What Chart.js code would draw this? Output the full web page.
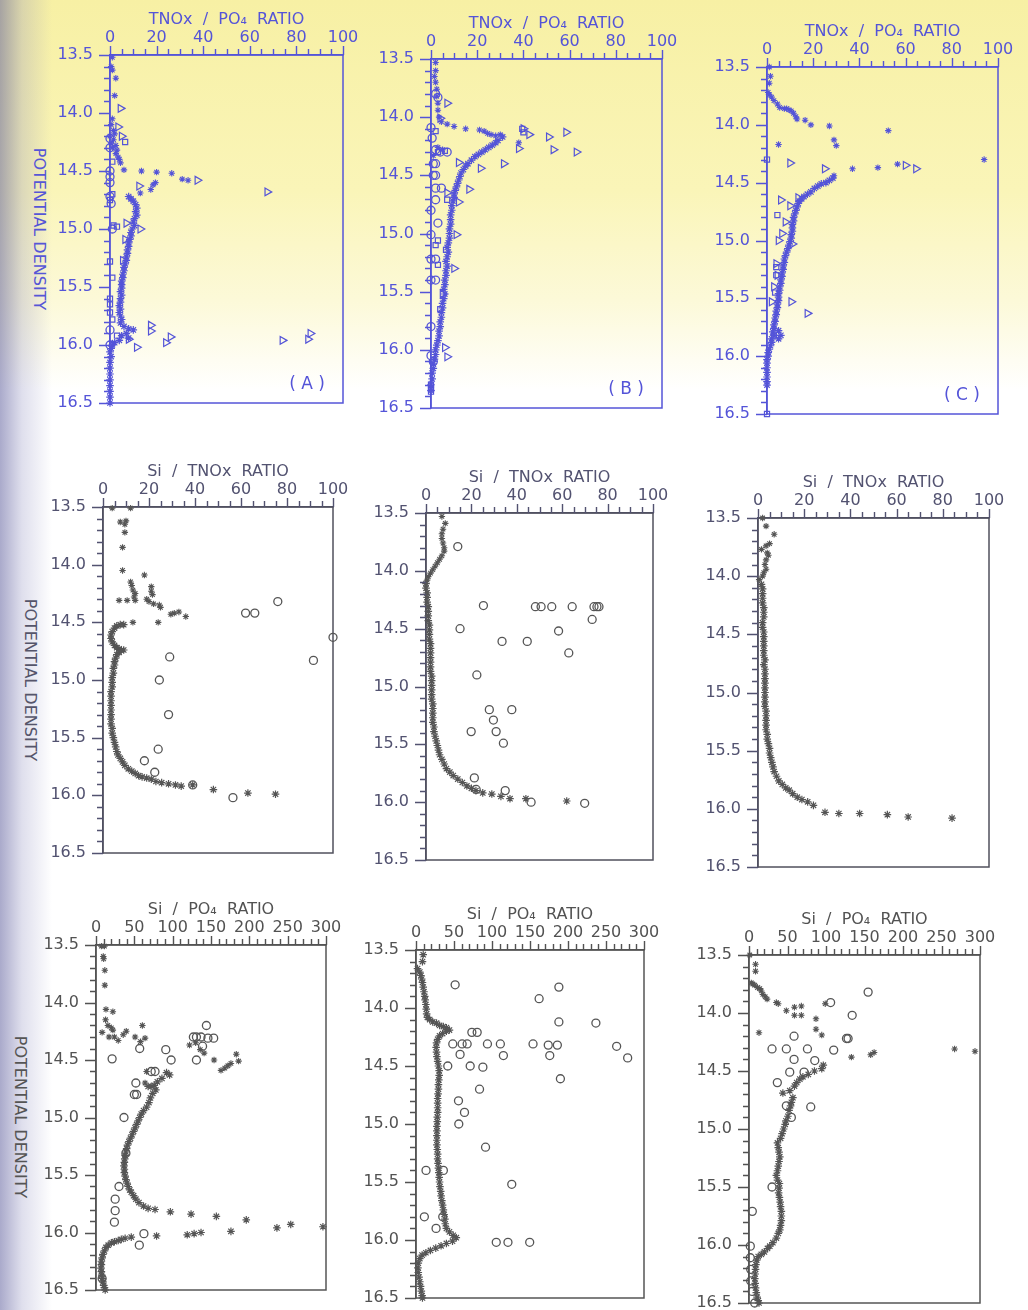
<!DOCTYPE html>
<html>
<head>
<meta charset="utf-8">
<script src="https://cdn.jsdelivr.net/npm/chart.js@4.4.0/dist/chart.umd.min.js"></script>
<style>
  body { margin: 0; background: #fff; }
  #page {
    position: relative; width: 1028px; height: 1310px; overflow: hidden;
    background:
      linear-gradient(to right, rgba(100,100,160,0.55) 0px, rgba(140,140,190,0.28) 22px, rgba(255,255,255,0) 52px),
      linear-gradient(to bottom, #f7f0a4 0px, #faf5b8 190px, #fcf9d8 300px, #ffffff 390px, #ffffff 100%);
  }
  .ytitle {
    position: absolute; white-space: nowrap;
    font: 16px "DejaVu Sans", sans-serif;
    transform: translate(-50%, -50%) rotate(90deg);
  }
</style>
</head>
<body>
<div id="page">
  <div class="ytitle" style="left:39px; top:229px; color:#5656d6">POTENTIAL DENSITY</div>
  <div class="ytitle" style="left:30px; top:680px; color:#55556a">POTENTIAL DENSITY</div>
  <div class="ytitle" style="left:20px; top:1117px; color:#555555">POTENTIAL DENSITY</div>
</div>
<script>
// each point is [ratio, potential density]

// ---- TNOx / PO4 ratio ----
const aProfile = [[8,14.72],[9,14.74],[10,14.76],[11,14.79],[11.5,14.82],[11,14.85],[11.5,14.88],[10.5,14.91],[10,14.94],[10.5,14.97],[9.5,15.0],[9,15.03],[9,15.06],[8.5,15.09],[8,15.12],[8,15.15],[7.5,15.18],[7.5,15.21],[7,15.24],[7,15.27],[6.5,15.3],[6,15.33],[6,15.36],[5.5,15.39],[5.5,15.42],[5,15.45],[5,15.48],[5,15.51],[4.5,15.54],[5,15.57],[4.5,15.6],[4.5,15.63],[4,15.66],[4.5,15.69],[4,15.72],[4.5,15.75],[5,15.78],[4.5,15.81],[6,15.84],[8,15.86],[10,15.87],[7,15.9],[5,15.92],[8,15.94],[4,15.96],[2,15.98],[1,16.0],[0.5,16.03],[0,16.06],[0.5,16.1],[0,16.15],[0,16.2],[0,16.25],[0,16.3],[0,16.35],[0,16.4],[0,16.45],[0,16.5]];
const aStars = [[1,13.52],[0.5,13.6],[1,13.63],[2.5,13.7],[2,13.85],[1,14.05],[0.5,14.1],[1.5,14.15],[2,14.18],[0,14.2],[1.5,14.23],[0.5,14.26],[2.5,14.28],[1,14.3],[3,14.32],[2.5,14.35],[3.5,14.38],[4,14.4],[4.5,14.43],[6,14.49],[13.5,14.5],[20,14.51],[26.5,14.52],[31,14.57],[33.5,14.58],[19.5,14.6],[18.5,14.62],[17.5,14.66],[13,14.69]];
const aTriangles = [[4.5,13.96],[3.5,14.12],[5,14.2],[37.5,14.58],[67.5,14.68],[12.5,14.63],[7,14.95],[13,15.0],[6.5,15.09],[5.5,15.27],[17.5,15.83],[17.5,15.88],[26,15.93],[24,15.98],[11.5,16.02],[74,15.96],[86,15.9],[85,15.95],[8,15.95]];
const aSquares = [[6.5,14.25],[1,14.42],[1,14.7],[0,14.75],[1.5,14.97],[3,14.98],[0,15.28],[1,15.42],[0,15.6],[0,15.65],[0,15.72],[1,15.78],[3,15.92]];
const aCircles = [[0,14.22],[0,14.3],[0,14.5],[0,14.55],[0,14.6],[0,14.72],[0.5,14.78],[1,15.0],[0,15.87],[0,16.0]];

const bProfile = [[31,14.17],[29,14.2],[28,14.22],[26.5,14.24],[25,14.26],[23.5,14.28],[22,14.3],[20.5,14.32],[19,14.34],[17.5,14.37],[16,14.4],[15,14.42],[14,14.45],[13,14.48],[12.5,14.51],[12,14.54],[11.5,14.57],[11,14.6],[10.5,14.63],[10,14.66],[10,14.69],[9.5,14.72],[9,14.76],[9,14.8],[8.5,14.84],[8.5,14.88],[8.5,14.92],[8,14.96],[8,15.0],[8,15.04],[7.5,15.08],[7,15.12],[7.5,15.16],[7,15.2],[6.5,15.24],[7,15.28],[6.5,15.32],[6.5,15.36],[6,15.4],[6,15.44],[5.5,15.48],[6,15.52],[5.5,15.56],[5,15.6],[5,15.64],[4.5,15.68],[4.5,15.72],[4,15.76],[4,15.8],[3.5,15.84],[3.5,15.88],[3,15.92],[2.5,15.96],[2,16.0],[2,16.04],[1.5,16.08],[1,16.12],[1,16.16],[0.5,16.2],[0.5,16.25],[0,16.3],[0,16.35]];
const bStars = [[2,13.53],[2,13.6],[1.5,13.65],[2,13.7],[2.5,13.76],[2.5,13.82],[3,13.88],[3,13.94],[3.5,14.0],[4.5,14.04],[7,14.06],[10,14.08],[15,14.1],[21,14.11],[23,14.12],[24.5,14.14],[26,14.15],[28,14.16],[30,14.15],[38,14.22],[3,14.26],[5,14.28],[1,14.33]];
const bTriangles = [[7,13.88],[40,14.1],[42.5,14.15],[51,14.17],[58.5,14.13],[38,14.27],[53,14.28],[63,14.3],[31.5,14.4],[21.5,14.44],[12,14.39],[16.5,14.62],[7,14.65],[12,14.73],[11,15.01],[10,15.3],[5,15.52],[6,15.98],[7,16.06],[4,14.01]];
const bSquares = [[39.5,14.1],[40,14.13],[6,14.29],[7,14.71],[3,15.06],[6.5,15.14],[3,15.27],[2,15.1],[4,15.65],[0,16.3],[0,16.33],[0,16.36],[3,14.3],[2,14.12]];
const bCircles = [[2,13.8],[3,13.83],[0,14.09],[0.5,14.18],[2,14.28],[4,14.3],[7,14.3],[2,14.4],[1,14.4],[2,14.5],[1,14.5],[2,14.61],[4.5,14.61],[2,14.71],[0,14.8],[3,14.91],[0,15.01],[2,15.22],[0,15.22],[2,15.4],[0,15.4],[0,15.8],[0,16.05],[1,16.1]];

const cProfile = [[28.5,14.46],[27,14.48],[25.5,14.5],[23.5,14.51],[22,14.53],[20.5,14.55],[19,14.58],[17.5,14.6],[16,14.62],[15,14.64],[14,14.66],[13.5,14.68],[13,14.71],[12.5,14.74],[12,14.77],[11.5,14.8],[11.5,14.83],[11,14.86],[11,14.89],[11,14.92],[10.5,14.95],[10.5,14.98],[10,15.01],[9.5,15.04],[9,15.07],[8.5,15.1],[8,15.13],[7.5,15.16],[7.5,15.19],[7,15.22],[7,15.25],[6.5,15.28],[6.5,15.31],[6,15.34],[6,15.37],[5.5,15.4],[5.5,15.43],[5,15.46],[5,15.49],[5,15.52],[4.5,15.55],[4.5,15.58],[4,15.61],[4,15.64],[3.5,15.67],[3.5,15.7],[3,15.73],[3,15.76],[2.5,15.79],[3,15.82],[2,15.85],[2,15.88],[1.5,15.91],[1,15.94],[0.5,15.97],[0.5,16.0],[0,16.03],[0,16.06],[0,16.1],[0,16.14],[0,16.18],[0,16.22],[0,16.25],[5,15.78],[6,15.82],[5,15.85]];
const cStars = [[1,13.5],[1.5,13.58],[1,13.64],[0.5,13.72],[1,13.74],[2,13.76],[3,13.79],[4.5,13.82],[5.5,13.85],[7.5,13.86],[8.5,13.86],[9.5,13.87],[10.5,13.88],[11.5,13.9],[12.5,13.93],[13,13.95],[16.5,13.96],[19,14.0],[27,14.01],[52.5,14.05],[29,14.13],[30,14.18],[5,14.17],[94,14.3],[37,14.38],[48,14.37],[56.5,14.34],[29,14.44]];
const cTriangles = [[10,14.33],[25,14.38],[60,14.35],[64.5,14.38],[13.5,14.63],[10,14.7],[8,14.84],[6.5,14.94],[5,15.0],[11,15.03],[10.5,15.53],[17.5,15.63],[2,15.53],[4,15.2],[3,15.4],[6,14.65],[4.5,15.3]];
const cSquares = [[0,14.3],[4.5,14.78],[4,15.23],[4,15.3],[3.5,15.45],[3,15.82],[0,16.5]];

// ---- Si / TNOx ratio ----
const dProfile = [[9,14.52],[7.5,14.52],[6,14.53],[5,14.55],[4,14.58],[3.5,14.61],[3.5,14.64],[4,14.67],[5,14.7],[6,14.72],[7,14.73],[8,14.74],[9,14.74],[7,14.76],[6,14.78],[5.5,14.81],[5,14.84],[5,14.87],[4.5,14.9],[4.5,14.94],[4,14.98],[4,15.02],[4,15.06],[3.5,15.1],[3.5,15.14],[3.5,15.18],[3.5,15.22],[3.5,15.26],[3.5,15.3],[3.5,15.34],[3.5,15.38],[4,15.42],[4,15.46],[4.5,15.5],[5,15.54],[5.5,15.58],[6,15.62],[6.5,15.65],[7.5,15.68],[8.5,15.71],[9.5,15.74],[11,15.77],[12.5,15.79],[14,15.81],[15.5,15.83],[17,15.84],[19,15.85],[21,15.86],[23,15.88],[25.5,15.89],[28.5,15.9],[31.5,15.91],[34,15.92],[39,15.91],[48,15.95],[63,15.98],[75,15.99]];
const dStars = [[4,13.51],[12,13.51],[7.5,13.63],[10,13.62],[9.5,13.65],[9.5,13.72],[8.5,13.85],[8.5,14.05],[18,14.09],[12,14.15],[12.5,14.18],[13,14.22],[21,14.19],[21,14.23],[21.5,14.26],[14,14.25],[13.5,14.28],[14,14.31],[10.5,14.31],[7,14.31],[19,14.3],[20,14.32],[22,14.34],[24.5,14.35],[25,14.37],[29.5,14.43],[31,14.42],[33,14.41],[36,14.45],[13,14.5],[24,14.5]];
const dCircles = [[76,14.32],[62,14.42],[66,14.42],[100,14.63],[91.5,14.83],[29,14.8],[24.5,15.0],[28.5,15.3],[24,15.6],[18,15.7],[22.5,15.8],[39,15.91],[56.5,16.02]];

const eProfile = [[0,14.11],[0,14.15],[0.5,14.19],[0.5,14.23],[0.5,14.27],[1,14.31],[1,14.35],[1,14.39],[1,14.43],[1.5,14.47],[1.5,14.51],[1.5,14.55],[1.5,14.59],[2,14.63],[2,14.67],[2,14.71],[2,14.75],[2,14.79],[2,14.83],[2,14.87],[2.5,14.91],[2.5,14.95],[2.5,14.99],[2.5,15.03],[2.5,15.07],[2.5,15.11],[3,15.15],[3,15.19],[3,15.23],[3,15.27],[3,15.31],[3.5,15.35],[3.5,15.39],[4,15.43],[4.5,15.47],[5,15.51],[5.5,15.55],[6,15.59],[7,15.63],[8,15.67],[9,15.71],[10.5,15.74],[12,15.77],[14,15.8],[16,15.83],[18,15.86],[20,15.88],[22,15.9],[25,15.92],[29,15.93],[33,15.95],[37,15.97],[44,15.97],[62,15.99]];
const eStars = [[7,13.53],[8.5,13.59],[7.5,13.64],[7,13.68],[7,13.72],[7.5,13.76],[8,13.8],[8,13.83],[7,13.87],[6,13.9],[5,13.93],[4,13.96],[3,13.99],[2,14.02],[1,14.05],[0.5,14.08]];
const eCircles = [[14,13.79],[25.3,14.3],[48.2,14.31],[50.7,14.31],[55.4,14.31],[64.4,14.31],[74,14.31],[75.3,14.31],[76.2,14.31],[73.2,14.42],[15,14.5],[58.4,14.52],[33.5,14.61],[44.6,14.61],[62.9,14.71],[22.4,14.9],[27.9,15.2],[37.8,15.2],[29.7,15.29],[30.9,15.39],[19.9,15.39],[34.1,15.49],[21.3,15.79],[22.1,15.89],[34.9,15.9],[46.3,16.0],[69.9,16.01]];

const fProfile = [[1.5,14.07],[2,14.11],[2,14.15],[2,14.19],[2,14.23],[2.5,14.27],[2.5,14.31],[2.5,14.35],[2,14.4],[2,14.44],[2.5,14.48],[2.5,14.52],[2.5,14.56],[2.5,14.6],[2.5,14.64],[2.5,14.68],[3,14.72],[2.5,14.76],[3,14.8],[3,14.84],[3,14.88],[3,14.92],[3,14.96],[3,15.0],[3,15.04],[3,15.08],[3,15.12],[3.5,15.16],[3.5,15.2],[3.5,15.24],[3.5,15.28],[3.5,15.32],[4,15.36],[4,15.4],[4.5,15.44],[5,15.48],[5,15.52],[5.5,15.56],[6,15.6],[6.5,15.64],[7,15.68],[8,15.72],[9,15.76],[10.5,15.79],[12,15.82],[13.5,15.84],[15,15.87],[17,15.9],[19,15.92],[21.5,15.94],[24,15.97],[29,16.03],[35,16.04],[44,16.04],[56,16.05],[65,16.07],[84,16.08]];
const fStars = [[2,13.5],[3.5,13.57],[7,13.64],[5,13.72],[3.5,13.74],[1.5,13.77],[4,13.8],[4.5,13.82],[3.5,13.86],[3,13.9],[3.5,13.94],[2.5,13.97],[2,14.0],[0.5,14.03]];

// ---- Si / PO4 ratio ----
const gProfile = [[92,14.61],[96,14.63],[86,14.66],[80,14.69],[76,14.72],[72,14.73],[68,14.73],[78,14.76],[74,14.79],[71,14.83],[69,14.87],[66,14.91],[62,14.94],[59,14.97],[57,15.0],[55,15.03],[53,15.06],[51,15.09],[49,15.12],[47,15.15],[45,15.18],[43,15.21],[41,15.24],[40,15.27],[39,15.3],[38,15.33],[37.5,15.36],[37,15.39],[36.5,15.42],[37,15.45],[37,15.48],[38,15.51],[39,15.54],[40.5,15.57],[42,15.6],[44,15.63],[46,15.65],[49,15.68],[52,15.71],[56,15.74],[62,15.77],[68,15.79],[77,15.8],[97,15.82],[124,15.84],[157,15.86],[196,15.89],[236,15.96],[254,15.93],[296,15.95],[176,15.99],[137,16.0],[128,16.01],[119,16.02],[79,16.03],[46,16.04],[38,16.05],[33,16.06],[29,16.07],[24,16.08],[20,16.09],[16,16.11],[13,16.13],[11,16.16],[9,16.19],[8,16.22],[7,16.25],[7,16.28],[6.5,16.31],[7,16.34],[7.5,16.37],[8,16.4],[9,16.43],[10,16.46],[11,16.48],[12,16.5]];
const gStars = [[7,13.51],[11,13.51],[9.5,13.6],[10,13.62],[11.5,13.72],[11.5,13.85],[13,14.06],[22,14.08],[12.5,14.15],[15.5,14.2],[20,14.22],[22,14.24],[8,14.26],[17,14.3],[24,14.3],[29,14.33],[35.5,14.28],[39.5,14.25],[60.5,14.2],[51,14.3],[64,14.31],[58,14.34],[122,14.37],[130,14.35],[136,14.41],[141,14.44],[154,14.5],[163,14.59],[168,14.57],[172,14.55],[176,14.53],[183,14.45],[186,14.51],[66,14.6],[64,14.7]];
const gCircles = [[144,14.2],[127,14.3],[131,14.3],[137,14.3],[146,14.31],[153.5,14.31],[57,14.4],[91,14.41],[139,14.38],[21,14.49],[98,14.5],[131,14.5],[72,14.6],[77,14.6],[52,14.7],[50,14.8],[53,14.8],[36.5,15.0],[39,15.31],[30,15.6],[25,15.71],[25,15.81],[24,15.91],[62.5,16.01],[56.5,16.11],[8,16.4]];

const hProfile = [[9.5,13.54],[8.5,13.6],[2,13.66],[5,13.69],[6.5,13.72],[7.5,13.75],[8.5,13.78],[9.5,13.82],[10.5,13.86],[11.5,13.9],[12,13.93],[13,13.97],[13.5,14.01],[14,14.05],[15,14.08],[18,14.1],[22,14.12],[27,14.13],[31,14.15],[36,14.16],[40,14.17],[44,14.19],[40,14.2],[35,14.22],[31,14.24],[28.5,14.27],[27,14.3],[26.5,14.34],[27,14.38],[27.5,14.42],[28.5,14.46],[29.5,14.5],[30.5,14.54],[30.5,14.58],[30,14.62],[29.5,14.66],[29.5,14.7],[29,14.74],[28.5,14.78],[28.5,14.82],[28.5,14.86],[28.5,14.9],[28,14.94],[28,14.98],[27.5,15.02],[27.5,15.06],[27.5,15.1],[27.5,15.14],[27.5,15.18],[28,15.22],[28.5,15.26],[28.5,15.3],[29,15.34],[29.5,15.38],[30,15.42],[30.5,15.46],[31,15.5],[31.5,15.54],[32.5,15.58],[33,15.62],[34,15.66],[35,15.7],[36,15.74],[37,15.78],[38,15.82],[38.5,15.86],[40,15.9],[44,15.93],[49,15.96],[53,15.98],[48,16.01],[40,16.03],[33,16.05],[26,16.07],[19,16.09],[13,16.11],[8,16.13],[5,16.16],[3,16.2],[2.5,16.24],[3,16.28],[4,16.32],[5,16.36],[6,16.4],[7,16.44],[8,16.48],[8.5,16.5]];
const hCircles = [[51.5,13.8],[188,13.82],[162,13.92],[188,14.12],[236.7,14.13],[73.5,14.21],[80.5,14.21],[48.4,14.31],[60.7,14.31],[67.3,14.31],[94,14.31],[111,14.31],[154,14.31],[174,14.32],[186,14.32],[264,14.33],[278.5,14.43],[58,14.4],[115,14.41],[176,14.41],[41.8,14.5],[71.3,14.5],[88,14.51],[190,14.61],[83.6,14.7],[55.9,14.8],[63.8,14.9],[56.3,15.0],[91.5,15.2],[13.2,15.4],[36,15.4],[126,15.52],[11,15.8],[35.2,15.8],[26.4,15.9],[105.6,16.02],[121,16.02],[149.6,16.02]];

const iProfile = [[96.5,14.45],[94.5,14.48],[85,14.5],[77,14.53],[70,14.55],[66,14.57],[62,14.6],[59,14.63],[53,14.67],[44,14.69],[57,14.73],[55,14.77],[54,14.8],[52,14.84],[50.5,14.89],[48,14.93],[47,14.96],[45,15.0],[43,15.04],[41,15.08],[37,15.12],[38,15.16],[39,15.2],[40,15.24],[39,15.28],[38,15.32],[37,15.36],[35.5,15.4],[37,15.44],[39.5,15.47],[39,15.51],[38.5,15.55],[39.5,15.59],[40.5,15.63],[41,15.67],[42,15.71],[42,15.75],[42,15.79],[41,15.83],[40,15.87],[38,15.9],[35.5,15.94],[31,15.98],[27,16.01],[24,16.03],[20,16.06],[16,16.08],[12,16.1],[10,16.13],[9,16.17],[8.5,16.21],[8,16.25],[7.5,16.29],[8,16.33],[8.5,16.37],[9.5,16.41],[10.5,16.45],[12,16.48],[13,16.5]];
const iStars = [[1,13.5],[8.5,13.58],[8.5,13.64],[3,13.74],[5,13.75],[7.5,13.76],[11,13.78],[14,13.79],[16,13.81],[18,13.84],[21,13.86],[23.5,13.88],[35.5,13.91],[38,13.92],[48.5,13.98],[59,13.95],[68,13.94],[59,14.02],[68,14.02],[87,14.05],[87,14.14],[94.5,14.19],[13,14.17],[99,13.92],[133,14.38],[158,14.36],[162.5,14.34],[267,14.31],[293.5,14.33]];
const iCircles = [[154.7,13.82],[106,13.91],[134,14.02],[58.5,14.2],[126.6,14.22],[128.7,14.22],[29.9,14.31],[48.5,14.31],[75.9,14.31],[110,14.32],[58.5,14.4],[85.4,14.41],[52.9,14.51],[71.5,14.51],[36.8,14.6],[48.5,14.8],[80.2,14.81],[55,14.9],[29.9,15.5],[4.3,15.71],[1.7,16.01],[1.7,16.11],[2.2,16.21],[2.2,16.31],[4.3,16.4],[7.4,16.5]];

const titleNP = 'TNOx  /  PO\u2084  RATIO';
const titleST = 'Si  /  TNOx  RATIO';
const titleSP = 'Si  /  PO\u2084  RATIO';

const FONT = '"DejaVu Sans", sans-serif';
const PAD_L = 80, PAD_T = 45, PAD_R = 25, PAD_B = 32;

// box around the plot area, drawn under the points
const framePlugin = {
  id: 'frame',
  beforeDatasetsDraw(chart, args, opts) {
    const {left, top, right, bottom} = chart.chartArea;
    const ctx = chart.ctx;
    ctx.save();
    ctx.strokeStyle = opts.color;
    ctx.lineWidth = 1.5;
    ctx.strokeRect(left, top, right - left, bottom - top);
    ctx.restore();
  }
};

// outward tick marks, long at labelled values, short in between
const tickPlugin = {
  id: 'ticks',
  afterDraw(chart, args, opts) {
    const {left, top} = chart.chartArea;
    const xs = chart.scales.x, ys = chart.scales.y;
    const ctx = chart.ctx;
    ctx.save();
    ctx.strokeStyle = opts.color;
    ctx.lineWidth = 1.4;
    ctx.beginPath();
    ys.ticks.forEach(t => {
      const py = Math.round(ys.getPixelForValue(t.value)) + 0.5;
      const len = Math.round(t.value * 10) % 5 === 0 ? 11 : 6;
      ctx.moveTo(left - len, py);
      ctx.lineTo(left, py);
    });
    xs.ticks.forEach(t => {
      const px = Math.round(xs.getPixelForValue(t.value)) + 0.5;
      const len = t.value % opts.major === 0 ? 9 : 6;
      ctx.moveTo(px, top - len);
      ctx.lineTo(px, top);
    });
    ctx.stroke();
    ctx.restore();
  }
};

const tagPlugin = {
  id: 'tag',
  afterDraw(chart, args, opts) {
    if (!opts.text) return;
    const {right, bottom} = chart.chartArea;
    const ctx = chart.ctx;
    ctx.save();
    ctx.fillStyle = opts.color;
    ctx.font = '17px ' + FONT;
    ctx.textAlign = 'center';
    ctx.textBaseline = 'middle';
    ctx.fillText(opts.text, right - 36, bottom - 18);
    ctx.restore();
  }
};

function markers(color) {
  return {
    profile: {pointStyle: 'star', pointRadius: 3.8, pointBorderWidth: 1.2, borderColor: color, backgroundColor: color},
    star: {pointStyle: 'star', pointRadius: 3.2, pointBorderWidth: 1.1, borderColor: color, backgroundColor: color},
    circle: {pointStyle: 'circle', pointRadius: 4, pointBorderWidth: 1.3, borderColor: color, backgroundColor: 'rgba(0,0,0,0)'},
    triangle: {pointStyle: 'triangle', pointRotation: 90, pointRadius: 4.5, pointBorderWidth: 1.2, borderColor: color, backgroundColor: 'rgba(0,0,0,0)'},
    square: {pointStyle: 'rect', pointRadius: 3.6, pointBorderWidth: 1.2, borderColor: color, backgroundColor: 'rgba(0,0,0,0)'}
  };
}

function makePanel(box, series, cfg) {
  const [L, T, R, B] = box;
  const w = R - L + PAD_L + PAD_R, h = B - T + PAD_T + PAD_B;
  const canvas = document.createElement('canvas');
  canvas.width = w; canvas.height = h;
  canvas.style.position = 'absolute';
  canvas.style.left = (L - PAD_L) + 'px';
  canvas.style.top = (T - PAD_T) + 'px';
  canvas.style.width = w + 'px';
  canvas.style.height = h + 'px';
  document.getElementById('page').appendChild(canvas);

  const m = markers(cfg.point);
  const datasets = series.map(([data, kind]) => Object.assign({
    data: data.map(p => ({x: p[0], y: p[1]})),
    clip: false
  }, m[kind]));

  new Chart(canvas.getContext('2d'), {
    type: 'scatter',
    data: {datasets},
    options: {
      responsive: false,
      animation: false,
      events: [],
      layout: {padding: {left: 0, top: 0, right: PAD_R, bottom: PAD_B}},
      plugins: {
        legend: {display: false},
        tooltip: {enabled: false},
        frame: {color: cfg.frame},
        ticks: {color: cfg.axis, major: cfg.xMajor},
        tag: {text: cfg.tag, color: cfg.axis}
      },
      scales: {
        x: {
          type: 'linear', position: 'top', min: 0, max: cfg.xMax,
          afterFit: s => { s.height = PAD_T; },
          ticks: {
            stepSize: cfg.xMinor, autoSkip: false, maxRotation: 0, padding: 8,
            color: cfg.axis, font: {family: FONT, size: 16},
            callback: v => (v % cfg.xMajor === 0 ? String(v) : '')
          },
          grid: {display: false, drawOnChartArea: false, drawTicks: false},
          border: {color: cfg.axis, width: 1.5},
          title: {display: true, text: cfg.title, color: cfg.axis, font: {family: FONT, size: 16}, padding: {top: 0, bottom: 0}}
        },
        y: {
          type: 'linear', reverse: true, min: 13.5, max: 16.5,
          afterFit: s => { s.width = PAD_L; },
          ticks: {
            stepSize: 0.1, autoSkip: false, padding: 17,
            color: cfg.axis, font: {family: FONT, size: 16},
            callback: v => (Math.round(v * 10) % 5 === 0 ? v.toFixed(1) : '')
          },
          grid: {display: false, drawOnChartArea: false, drawTicks: false},
          border: {color: cfg.axis, width: 1.5}
        }
      }
    },
    plugins: [framePlugin, tickPlugin, tagPlugin]
  });
}

const BLUE = '#5454d8';
const row1 = {axis: BLUE, frame: BLUE, point: BLUE, xMax: 100, xMinor: 5, xMajor: 20, title: titleNP};
const row2 = {axis: '#525270', frame: '#50505c', point: '#555555', xMax: 100, xMinor: 5, xMajor: 20, title: titleST};
const row3 = {axis: '#525252', frame: '#555555', point: '#555555', xMax: 300, xMinor: 10, xMajor: 50, title: titleSP};

makePanel([110, 55, 343, 403], [[aProfile, 'profile'], [aStars, 'star'], [aTriangles, 'triangle'], [aSquares, 'square'], [aCircles, 'circle']], Object.assign({tag: '( A )'}, row1));
makePanel([431, 59, 662, 408], [[bProfile, 'profile'], [bStars, 'star'], [bTriangles, 'triangle'], [bSquares, 'square'], [bCircles, 'circle']], Object.assign({tag: '( B )'}, row1));
makePanel([767, 67, 998, 414], [[cProfile, 'profile'], [cStars, 'star'], [cTriangles, 'triangle'], [cSquares, 'square']], Object.assign({tag: '( C )'}, row1));

makePanel([103, 507, 333, 853], [[dProfile, 'profile'], [dStars, 'star'], [dCircles, 'circle']], row2);
makePanel([426, 513, 653, 860], [[eProfile, 'profile'], [eStars, 'star'], [eCircles, 'circle']], row2);
makePanel([758, 518, 989, 867], [[fProfile, 'profile'], [fStars, 'star']], row2);

makePanel([96, 945, 326, 1290], [[gProfile, 'profile'], [gStars, 'star'], [gCircles, 'circle']], row3);
makePanel([416, 950, 644, 1298], [[hProfile, 'profile'], [hCircles, 'circle']], row3);
makePanel([749, 955, 980, 1303], [[iProfile, 'profile'], [iStars, 'star'], [iCircles, 'circle']], row3);
</script>
</body>
</html>
